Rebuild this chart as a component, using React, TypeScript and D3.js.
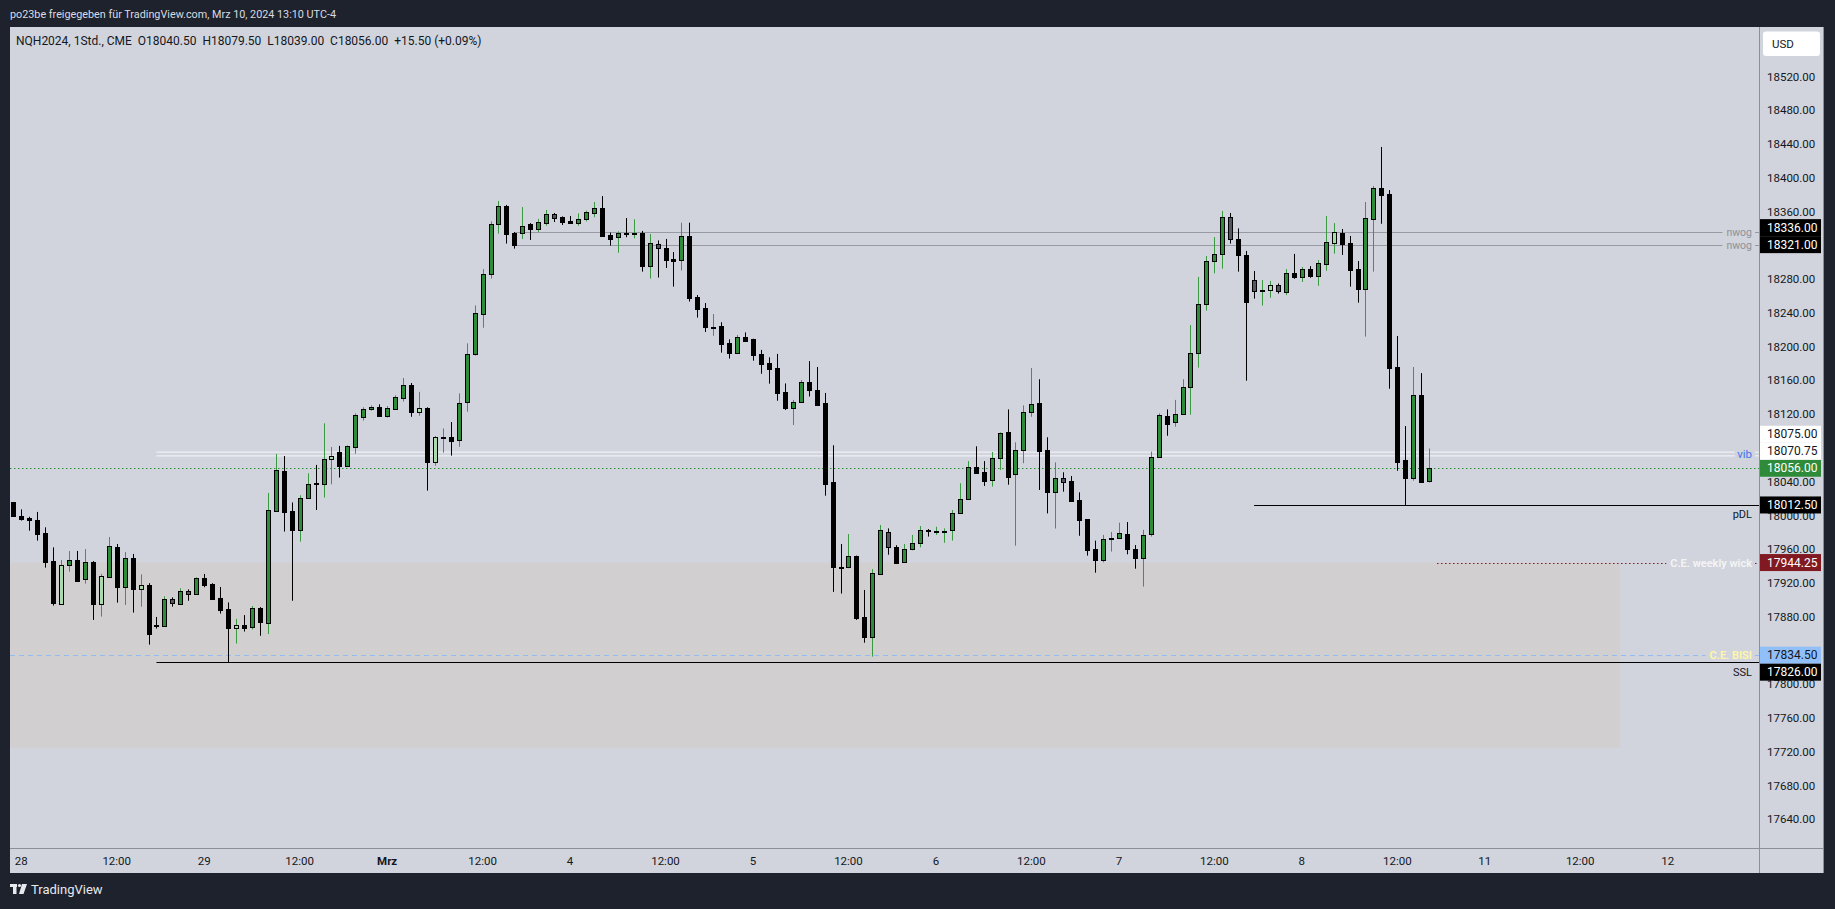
import React from 'react';
import * as d3 from 'd3';

const W = 1835;
const H = 909;

// Hourly candles, NQH2024, Feb 27 23:00 -> Mar 8 16:00 (index 0..178)
const opens = [
  18015.5, 18000, 17997, 17994.25, 17979, 17945.75, 17895.5, 17941, 17947, 17924.5,
  17945, 17895.5, 17927.5, 17962.25, 17915.75, 17949.25, 17913.25, 17917.75, 17870, 17869.5,
  17900.75, 17895.5, 17910.25, 17906.5, 17925.5, 17918.5, 17902, 17888.75, 17866.25, 17870,
  17867.5, 17890, 17873, 18005.75, 18052.75, 18005.5, 17983.25, 18020.5, 18038.25, 18037,
  18066.5, 18075, 18059, 18081.5, 18117, 18125.75, 18128.25, 18118.25, 18126.5, 18139.75,
  18154.25, 18123, 18127, 18063.75, 18092.5, 18092.75, 18089, 18134, 18191.75, 18239.25,
  18286.5, 18345, 18366.75, 18334.75, 18335.25, 18345.5, 18340, 18347, 18357, 18353.75,
  18348.5, 18347, 18351.75, 18359, 18364, 18332, 18329.75, 18334.75, 18333.25, 18334.75,
  18296, 18321.5, 18316.5, 18303.5, 18302.5, 18331, 18258.5, 18246, 18223, 18224.5,
  18204.5, 18193, 18211.5, 18209.25, 18191.5, 18180.75, 18174.5, 18146.5, 18127.75, 18134,
  18157.75, 18148.5, 18133, 18039.25, 17939.5, 17938.5, 17951.5, 17879.75, 17856.5, 17931,
  17980, 17962.25, 17945.25, 17960, 17967, 17983, 17981.25, 17981.25, 17982.5, 18002.5,
  18019.25, 18057, 18051.25, 18041.75, 18067.75, 18098.5, 18048.75, 18077.25, 18122.25, 18133,
  18077.75, 18028.25, 18044, 18040.5, 18018, 17995.5, 17960, 17947, 17972.25, 17973,
  17978, 17960.25, 17949.25, 17977.75, 18069, 18117.5, 18110.5, 18120, 18152, 18192.25,
  18250.25, 18301.25, 18309.5, 18353.75, 18327.25, 18308.25, 18278.75, 18267, 18266.75, 18272.75,
  18265.25, 18287, 18283, 18291.75, 18284.25, 18298.5, 18323.25, 18334.25, 18322.5, 18291.75,
  18268.75, 18351.75, 18387.75, 18380.5, 18175.5, 18065.5, 18044.75, 18142.5, 18040.5,
];
const highs = [
  18016, 18007.25, 17998.5, 18004.25, 17986, 17962.25, 17947.25, 17958, 17958, 17960.25,
  17946, 17930.75, 17974.5, 17966.25, 17956.75, 17954.5, 17930.25, 17919.75, 17879.75, 17904.25,
  17903, 17913.75, 17912.5, 17926.75, 17930.75, 17919.75, 17915.25, 17897, 17877.5, 17882,
  17892.75, 17891.5, 18026.75, 18073, 18070.5, 18015.5, 18024, 18050, 18060, 18109.25,
  18081.25, 18082.5, 18083, 18121, 18128.25, 18130.5, 18131.75, 18129.75, 18142.5, 18163,
  18157, 18146.5, 18128.25, 18094.25, 18103.25, 18110.75, 18144.75, 18204, 18249, 18292,
  18348.5, 18372.75, 18368, 18336, 18365.5, 18346.5, 18351.5, 18362, 18358.5, 18354.5,
  18355, 18358, 18361.25, 18371.5, 18378.5, 18335.25, 18336.75, 18352.5, 18351, 18337.25,
  18333.5, 18326, 18327.75, 18312.25, 18347, 18347, 18261.25, 18251.75, 18238.75, 18229,
  18208.75, 18214, 18217, 18209.5, 18196.25, 18187.5, 18191.5, 18156.5, 18137, 18160.5,
  18183, 18176, 18145.25, 18083.25, 17966.25, 17978, 17952.5, 17911.75, 17936.5, 17988.75,
  17984.75, 17964.75, 17966.25, 17977, 17987.5, 17984, 17986.75, 17984.75, 18006.5, 18038.25,
  18064.5, 18082, 18064.5, 18075.25, 18098.5, 18125.75, 18086.75, 18130.5, 18174.75, 18161.5,
  18092.75, 18063, 18051.25, 18046.75, 18027.5, 17995.5, 17970.25, 17977, 17980.5, 17991.5,
  17992.25, 17965, 17983, 18075.75, 18121, 18125.75, 18137, 18161.5, 18225.75, 18282.75,
  18307.5, 18330, 18361, 18358.5, 18340.25, 18313.5, 18289.75, 18279, 18278, 18275,
  18292, 18310, 18294.5, 18295.5, 18302.75, 18355, 18346.5, 18339.5, 18331.25, 18301.5,
  18371.5, 18390.5, 18436.75, 18385.75, 18212.75, 18106, 18176, 18168.75, 18079.5,
];
const lows = [
  17998.5, 17994, 17982, 17970.25, 17938.25, 17893.25, 17895, 17933.5, 17922.75, 17919.25,
  17876.25, 17880.25, 17927.5, 17896.75, 17894, 17885, 17892, 17847, 17866, 17869,
  17892, 17895.5, 17899, 17906, 17915, 17901, 17883.75, 17826, 17848.25, 17862.5,
  17865, 17857.5, 17859.5, 18005, 17981, 17899, 17969, 18020, 18006.5, 18021.25,
  18037, 18045, 18059, 18073.25, 18112.5, 18124.25, 18117, 18116, 18126, 18135,
  18117, 18118.25, 18029.5, 18059, 18074.5, 18071, 18081.5, 18123, 18189.5, 18222.5,
  18280.75, 18334, 18322.25, 18316.25, 18327.75, 18326.5, 18336, 18343.5, 18347.75, 18344.25,
  18347, 18343.5, 18348.5, 18353.5, 18331.5, 18319.75, 18311.5, 18329.75, 18328.5, 18289,
  18280.75, 18282, 18293.25, 18271.25, 18290.25, 18253.5, 18234.5, 18217.5, 18213, 18193,
  18186, 18193, 18206, 18183.5, 18168, 18156.25, 18136, 18125, 18107.25, 18134,
  18141, 18131.25, 18023.5, 17909.5, 17907.5, 17937.5, 17876.25, 17849.25, 17832.75, 17930.25,
  17953.5, 17943.5, 17944, 17958.75, 17962.25, 17975, 17977, 17967.75, 17970.25, 18002,
  18019, 18050.5, 18035, 18034.25, 18054, 18036.5, 17964.25, 18062, 18117, 18030.25,
  18002.5, 17984.5, 18028.25, 18017.5, 17976, 17952.5, 17932.25, 17944.5, 17957.25, 17973,
  17954, 17937, 17915.75, 17975, 18069, 18094.5, 18105.25, 18119.5, 18119.5, 18175.25,
  18242.75, 18287, 18292.5, 18322.25, 18289, 18159.75, 18257, 18248.75, 18258, 18263,
  18261.25, 18280.5, 18276.75, 18281.75, 18272.25, 18290, 18310.25, 18308.75, 18271.25, 18252.25,
  18212, 18289, 18345.75, 18150.25, 18053, 18012.5, 18041.25, 18039, 18039,
];
const closes = [
  18000, 17996.25, 17994.25, 17978.5, 17945.25, 17896.75, 17941, 17947, 17922.75, 17944.5,
  17895.5, 17928, 17963.5, 17915.75, 17949.25, 17913.25, 17917.25, 17860, 17869.5, 17900.75,
  17896, 17910.25, 17906.5, 17925.5, 17918, 17901.5, 17888.5, 17867, 17870, 17867,
  17890, 17873.75, 18006.25, 18053.5, 18004.5, 17983.25, 18020.5, 18037, 18037.5, 18066.5,
  18070.5, 18059, 18082.75, 18118.75, 18125.75, 18128.25, 18118.25, 18127, 18140, 18154.25,
  18123, 18127.75, 18063.75, 18092.75, 18093, 18088.75, 18133, 18191, 18239.5, 18285.75,
  18345, 18366.5, 18334, 18321, 18342.75, 18340, 18347.5, 18357, 18352.25, 18348.25,
  18347, 18351, 18359.25, 18364, 18331.5, 18328, 18334.5, 18333.25, 18334.75, 18296,
  18322.5, 18316.5, 18302.5, 18301.25, 18331, 18258.25, 18244.25, 18223, 18223.75, 18203.75,
  18193, 18211.5, 18207.25, 18190.5, 18180, 18174, 18145.5, 18127.5, 18134, 18157.75,
  18148.5, 18131.5, 18037.75, 17939.5, 17939, 17951.5, 17879, 17856.5, 17931.5, 17982.5,
  17962.25, 17944, 17960, 17967, 17982.5, 17982.5, 17981.5, 17981.5, 18003, 18019.25,
  18057, 18050.75, 18041.25, 18067.75, 18097.5, 18046, 18077.25, 18122.25, 18131.75, 18077,
  18027.5, 18044, 18040, 18017.5, 17995, 17958.75, 17947, 17972.25, 17973, 17979,
  17960, 17949.25, 17976.5, 18069, 18118.75, 18109, 18120, 18152, 18192.25, 18250.25,
  18301.25, 18309.5, 18353.75, 18327.25, 18309, 18253.5, 18265.5, 18267.25, 18272.75, 18265.5,
  18287, 18283, 18291.75, 18284.25, 18298.75, 18323.75, 18335.5, 18322, 18291.25, 18268.75,
  18352, 18387.75, 18380.25, 18175.25, 18063.75, 18044.75, 18142.5, 18040.25, 18056,
];
const lightIdx = [6, 11, 16, 28, 40, 51, 53, 158, 166];
const grayIdx = [20, 22, 68, 81, 110, 132, 153, 156, 159];

const timeTickIdx = [1, 13, 24, 36, 47, 59, 70, 82, 93, 105, 116, 128, 139, 151, 162, 174, 185, 197, 208];
const timeTickLabels = ['28', '12:00', '29', '12:00', 'Mrz', '12:00', '4', '12:00', '5', '12:00', '6', '12:00', '7', '12:00', '8', '12:00', '11', '12:00', '12'];
const priceTicks = d3.range(17640, 18521, 40);

const nwogLevels = [18336, 18321];
const vibLevels = [18075, 18070.75];
const pdlLevel = 18012.5;
const ceWeeklyWick = 17944.25;
const ceBisi = 17834.5;
const sslLevel = 17826;
const lastPrice = 18056;
const zoneRange = [17944.25, 17725];

const headerText = 'po23be freigegeben für TradingView.com, Mrz 10, 2024 13:10 UTC-4';
const legendText = 'NQH2024, 1Std., CME  O18040.50  H18079.50  L18039.00  C18056.00  +15.50 (+0.09%)';

const FONT = "Roboto, 'Noto Sans', sans-serif";

let ctx: CanvasRenderingContext2D | null = null;
function textW(t: string, size: number, weight = 400) {
  if (!ctx) ctx = document.createElement('canvas').getContext('2d');
  if (!ctx) return t.length * size * 0.55;
  ctx.font = `${weight} ${size}px Roboto`;
  return ctx.measureText(t).width;
}

export default function App() {
  const plotL = 10, plotR = 1759, plotT = 27, plotB = 848, panelR = 1824, panelB = 873;
  const x = d3.scaleLinear().domain([0, 178]).range([13.3, 1429.1]);
  const y = d3.scaleLinear().domain([17640, 18520]).range([819.3, 76.7]);

  const darkBg = '#1e222d';
  const plotBg = '#d1d4dc';
  const textDark = '#131722';
  const green = '#2e8b3a';
  const wickGreen = '#3a9a3f';

  const lightSet = new Set(lightIdx);
  const graySet = new Set(grayIdx);

  const candles = opens.map((o, i) => {
    const c = closes[i];
    const bull = c >= o;
    const cx = Math.round(x(i));
    const yt = Math.round(y(Math.max(o, c)));
    const yb = Math.round(y(Math.min(o, c)));
    let fill = bull ? green : '#000000';
    if (lightSet.has(i)) fill = '#a9dcaa';
    if (graySet.has(i)) fill = '#535661';
    const wick = graySet.has(i) ? '#000' : bull ? wickGreen : '#000';
    return (
      <g key={i}>
        <line x1={cx + 0.5} x2={cx + 0.5} y1={y(highs[i])} y2={y(lows[i])} stroke={wick} strokeWidth={1} />
        <rect x={cx - 1.5} y={yt + 0.5} width={4} height={Math.max(1, yb - yt)} fill={fill} stroke="#000" strokeWidth={1} />
      </g>
    );
  });

  const labelRight = 1752;
  const cutLine = (price: number, x1: number, label: string, size: number, weight: number, color: string, lineProps: any, key: string) => {
    const yy = Math.round(y(price)) + 0.5;
    const tw = textW(label, size, weight);
    const ls = labelRight - tw;
    return (
      <g key={key}>
        <line x1={x1} x2={ls - 4} y1={yy} y2={yy} {...lineProps} />
        <line x1={labelRight + 3} x2={plotR} y1={yy} y2={yy} {...lineProps} />
        <text x={labelRight} y={yy} textAnchor="end" dominantBaseline="central" fontSize={size} fontWeight={weight} fill={color} fontFamily={FONT}>{label}</text>
      </g>
    );
  };

  // right axis labels with collision avoidance
  const boxH = 17;
  const boxItems = [
    { price: lastPrice, text: '18056.00', bg: '#2e8b3a', fg: '#ffffff' },
    { price: nwogLevels[1], text: '18321.00', bg: '#000000', fg: '#ffffff' },
    { price: ceBisi, text: '17834.50', bg: '#90bff9', fg: textDark },
    { price: pdlLevel, text: '18012.50', bg: '#000000', fg: '#ffffff' },
    { price: ceWeeklyWick, text: '17944.25', bg: '#801922', fg: '#ffffff' },
    { price: vibLevels[1], text: '18070.75', bg: '#ffffff', fg: textDark },
    { price: vibLevels[0], text: '18075.00', bg: '#ffffff', fg: textDark },
    { price: nwogLevels[0], text: '18336.00', bg: '#000000', fg: '#ffffff' },
    { price: sslLevel, text: '17826.00', bg: '#000000', fg: '#ffffff' },
  ];
  const placed: { price: number; y: number; text: string; bg: string; fg: string }[] = [];
  for (const it of boxItems) {
    let yy = y(it.price);
    for (let k = 0; k < 12; k++) {
      const c = placed.find((p) => Math.abs(p.y - yy) < boxH - 0.01);
      if (!c) break;
      yy = it.price > c.price ? c.y - boxH : c.y + boxH;
    }
    placed.push({ ...it, y: yy });
  }
  // ticks whose centre is hidden under a label box are not drawn
  const visibleTicks = priceTicks.filter((p) => !placed.some((b) => Math.abs(b.y - y(p)) < boxH / 2 + 1));

  const vibY = (y(vibLevels[0]) + y(vibLevels[1])) / 2;
  const vibTw = textW('vib', 11, 400);

  return (
    <svg width={W} height={H} style={{ position: 'fixed', left: 0, top: 0, display: 'block' }} fontFamily={FONT}>
      <defs>
        <clipPath id="plotClip">
          <rect x={plotL} y={plotT} width={plotR - plotL} height={plotB - plotT} />
        </clipPath>
      </defs>
      <rect x={0} y={0} width={W} height={H} fill={darkBg} />
      <text x={10} y={14} dominantBaseline="central" fontSize={10.8} fill="#d9dbe2">{headerText}</text>
      <rect x={plotL} y={plotT} width={panelR - plotL} height={panelB - plotT} fill={plotBg} />

      <g clipPath="url(#plotClip)">
        {/* zone */}
        <rect x={plotL} y={y(zoneRange[0])} width={x(202) - plotL} height={y(zoneRange[1]) - y(zoneRange[0])} fill="#d2cfd0" />
        {/* vib lines */}
        {vibLevels.map((p, k) => (
          <g key={'vib' + k}>
            <line x1={x(18)} x2={labelRight - vibTw - 3} y1={y(p)} y2={y(p)} stroke="#eef0f6" strokeWidth={1.2} />
            <line x1={labelRight + 3} x2={plotR} y1={y(p)} y2={y(p)} stroke="#eef0f6" strokeWidth={1.2} />
          </g>
        ))}
        <text x={labelRight} y={vibY} textAnchor="end" dominantBaseline="central" fontSize={11.5} fill="#3f74f0">vib</text>
        {/* nwog */}
        {nwogLevels.map((p, k) => cutLine(p, x(63), 'nwog', 10.5, 400, '#8e919a', { stroke: '#979aa3', strokeWidth: 1 }, 'nw' + k))}
        {/* pDL */}
        <line x1={x(156)} x2={plotR} y1={Math.round(y(pdlLevel)) + 0.5} y2={Math.round(y(pdlLevel)) + 0.5} stroke="#000" strokeWidth={1} />
        <text x={labelRight} y={y(pdlLevel) + 10} textAnchor="end" dominantBaseline="central" fontSize={11} fill={textDark}>pDL</text>
        {/* C.E. weekly wick */}
        {cutLine(ceWeeklyWick, x(179), 'C.E. weekly wick', 11, 600, '#f4f4f6', { stroke: '#7a1c24', strokeWidth: 1, strokeDasharray: '1.5,2.5' }, 'cew')}
        {/* C.E. BISI */}
        {cutLine(ceBisi, plotL, 'C.E. BISI', 11, 600, '#fff7a8', { stroke: '#93bdf2', strokeWidth: 1, strokeDasharray: '5,4' }, 'bisi')}
        {/* SSL */}
        <line x1={x(18)} x2={plotR} y1={Math.round(y(sslLevel)) + 0.5} y2={Math.round(y(sslLevel)) + 0.5} stroke="#000" strokeWidth={1.2} />
        <text x={labelRight} y={y(sslLevel) + 10} textAnchor="end" dominantBaseline="central" fontSize={11} fill={textDark}>SSL</text>
        {/* last price */}
        <line x1={plotL} x2={plotR} y1={Math.round(y(lastPrice)) + 0.5} y2={Math.round(y(lastPrice)) + 0.5} stroke={green} strokeWidth={1} strokeDasharray="1.5,2.5" />
        {candles}
      </g>

      {/* legend */}
      <text x={16} y={41} dominantBaseline="central" fontSize={12} fill={textDark} style={{ whiteSpace: 'pre' }} xmlSpace="preserve">{legendText}</text>

      {/* axes separators */}
      <line x1={plotR + 0.5} x2={plotR + 0.5} y1={plotT} y2={panelB} stroke="#8c8f99" strokeWidth={1} />
      <line x1={plotL} x2={panelR} y1={plotB + 0.5} y2={plotB + 0.5} stroke="#8c8f99" strokeWidth={1} />
      <line x1={panelR - 0.5} x2={panelR - 0.5} y1={plotT} y2={panelB} stroke="#8c8f99" strokeWidth={1} />

      {/* price ticks */}
      {visibleTicks.map((p) => (
        <text key={p} x={1767} y={y(p)} dominantBaseline="central" fontSize={11.5} fill={textDark}>{p.toFixed(2)}</text>
      ))}
      {/* right labels */}
      {placed.map((b) => (
        <g key={b.text}>
          <rect x={plotR + 1} y={b.y - boxH / 2} width={61} height={boxH} fill={b.bg} />
          <text x={1767} y={b.y} dominantBaseline="central" fontSize={12} fill={b.fg}>{b.text}</text>
        </g>
      ))}
      {/* USD */}
      <rect x={1763} y={31.5} width={57} height={24.5} rx={3} fill="#ffffff" />
      <text x={1772} y={44} dominantBaseline="central" fontSize={11.5} fill={textDark}>USD</text>

      {/* time axis */}
      {timeTickIdx.map((idx, k) => (
        <text key={k} x={x(idx)} y={861} textAnchor="middle" dominantBaseline="central" fontSize={11.5} fontWeight={timeTickLabels[k] === 'Mrz' ? 700 : 400} fill={textDark}>{timeTickLabels[k]}</text>
      ))}

      {/* TradingView logo */}
      <g fill="#e8e9ee">
        <rect x={10} y={884} width={7} height={3} />
        <rect x={13} y={884} width={3.5} height={10} />
        <circle cx={19.5} cy={885.5} r={1.6} />
        <polygon points="22,884 27,884 23.5,894 19,894" />
      </g>
      <text x={31} y={889} dominantBaseline="central" fontSize={13} fill="#e8e9ee">TradingView</text>
    </svg>
  );
}
